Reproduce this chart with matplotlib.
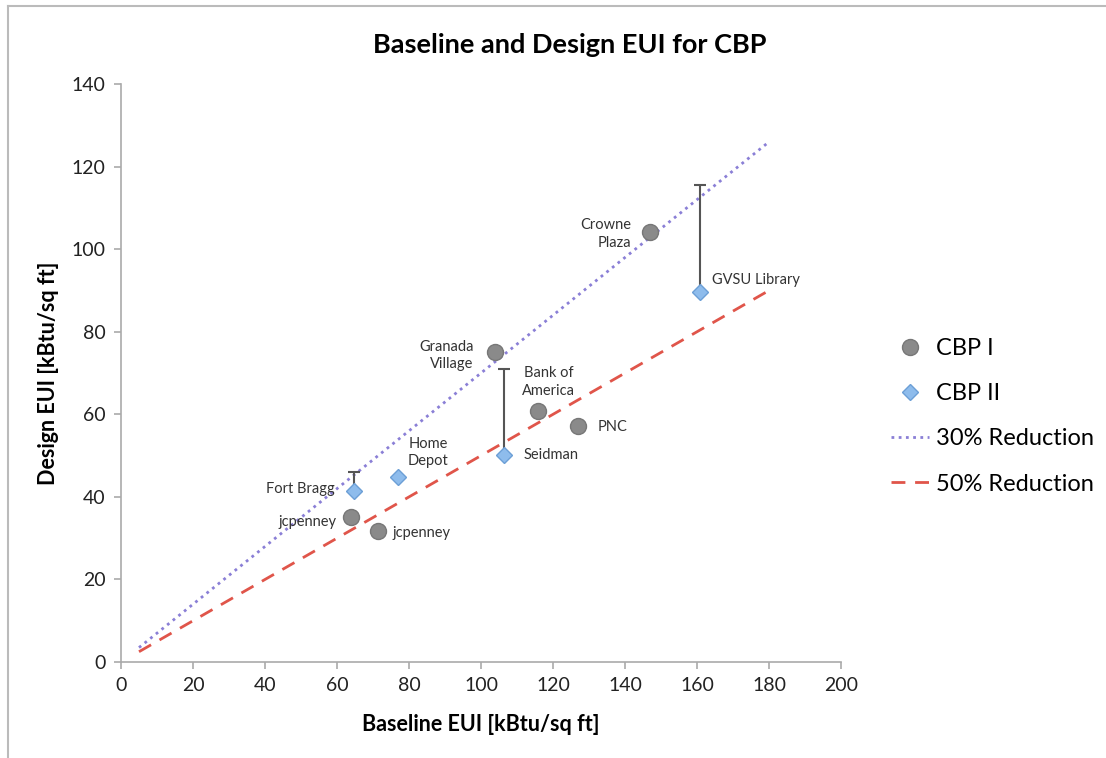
import matplotlib.pyplot as plt
from matplotlib.lines import Line2D

plt.rcParams['font.family'] = ['Lato', 'DejaVu Sans']

# CBP I buildings
cbp1_names = ['Crowne\nPlaza', 'Granada\nVillage', 'Bank of\nAmerica', 'PNC', 'jcpenney', 'jcpenney']
cbp1_base = [147.0, 103.9, 115.8, 127.0, 63.9, 71.4]
cbp1_design = [104.2, 75.2, 60.8, 57.1, 35.2, 31.8]

# CBP II buildings, with upper error bar to the value shown
cbp2_names = ['GVSU Library', 'Seidman', 'Home\nDepot', 'Fort Bragg']
cbp2_base = [160.8, 106.4, 76.9, 64.7]
cbp2_design = [89.6, 50.2, 44.8, 41.4]
cbp2_upper = [115.5, 71.0, 0.0, 46.0]

# reference reduction lines
line_base = [5, 180]
line_30 = [3.5, 126]
line_50 = [2.5, 90]

# label offsets (data units) and alignment per point
cbp1_lbl = [(-5.2, -0.5, 'right'), (-6.0, -0.9, 'right'), (2.9, 7.0, 'center'),
            (5.5, -0.2, 'left'), (-4.0, -1.3, 'right'), (4.1, -0.6, 'left')]
cbp2_lbl = [(3.4, 2.9, 'left'), (5.5, -0.1, 'left'), (8.4, 6.0, 'center'),
            (-5.3, 0.5, 'right')]

fig = plt.figure(figsize=(11.06, 7.58), dpi=100)
ax = fig.add_axes([0.1094, 0.1266, 0.651, 0.7625])

ax.plot(line_base, line_30, linestyle=(0, (1, 1.6)), color='#8a7fd6', lw=2,
        label='30% Reduction', zorder=2)
ax.plot(line_base, line_50, linestyle=(0, (5, 3.5)), color='#e0554a', lw=2,
        label='50% Reduction', zorder=2)

# error bars from diamond up to upper value
for x, y, top in zip(cbp2_base, cbp2_design, cbp2_upper):
    if top > y:
        ax.errorbar([x], [y], yerr=[[0], [top - y]], fmt='none', ecolor='#555555',
                    elinewidth=1.5, capsize=4, capthick=1.5, zorder=3)

ax.plot(cbp1_base, cbp1_design, 'o', ms=11.5, color='#8a8a8a', mec='#777777',
        mew=1, label='CBP I', zorder=4)
ax.plot(cbp2_base, cbp2_design, 'D', ms=8.5, color='#8ebcec', mec='#6c9fd6',
        mew=1, label='CBP II', zorder=4)

for name, x, y, (dx, dy, ha) in zip(cbp1_names, cbp1_base, cbp1_design, cbp1_lbl):
    ax.text(x + dx, y + dy, name, ha=ha, va='center', fontsize=10.5,
            color='#333333', linespacing=1.3)
for name, x, y, (dx, dy, ha) in zip(cbp2_names, cbp2_base, cbp2_design, cbp2_lbl):
    ax.text(x + dx, y + dy, name, ha=ha, va='center', fontsize=10.5,
            color='#333333', linespacing=1.3)

ax.set_xlim(0, 200)
ax.set_ylim(0, 140)
ax.set_xticks(range(0, 201, 20))
ax.set_yticks(range(0, 141, 20))
for s in ['top', 'right']:
    ax.spines[s].set_visible(False)
for s in ['left', 'bottom']:
    ax.spines[s].set_color('#aaaaaa')
    ax.spines[s].set_linewidth(1.2)
ax.tick_params(direction='out', length=5, width=1.2, color='#aaaaaa',
               labelsize=14, labelcolor='#222222', pad=6)

fig.text(0.515, 0.94, 'Baseline and Design EUI for CBP', fontsize=19.5,
         fontweight='bold', ha='center', va='center')
ax.set_xlabel('Baseline EUI [kBtu/sq ft]', fontsize=15.5, fontweight='bold',
              labelpad=14)
ax.set_ylabel('Design EUI [kBtu/sq ft]', fontsize=15.5, fontweight='bold',
              labelpad=9)

handles, labels = ax.get_legend_handles_labels()
order = [2, 3, 0, 1]
ax.legend([handles[i] for i in order], [labels[i] for i in order],
          loc='center left', bbox_to_anchor=(1.04, 0.425), frameon=False,
          fontsize=17, handlelength=1.6, handletextpad=0.3, labelspacing=1.02)

# thin frame around the chart area
fig.add_artist(Line2D([0.007, 1.0], [0.992, 0.992], color='#bbbbbb', lw=1.5))
fig.add_artist(Line2D([0.007, 0.007], [0.0, 0.992], color='#bbbbbb', lw=1.5))

fig.savefig('out.png', dpi=100)
